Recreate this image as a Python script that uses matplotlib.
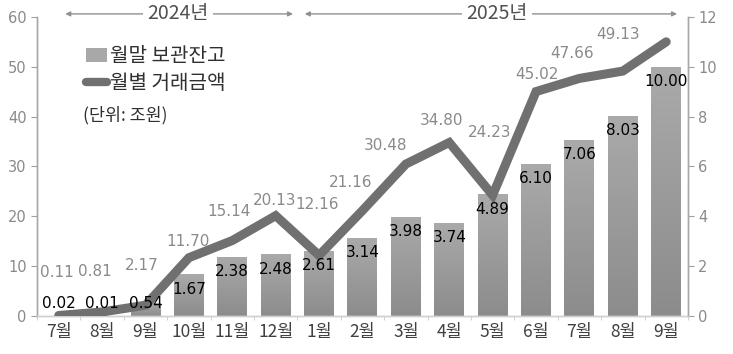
import numpy as np
import matplotlib.pyplot as plt
from matplotlib.patches import Patch
from matplotlib.lines import Line2D
from matplotlib.colors import LinearSegmentedColormap

plt.rcParams['font.family'] = ['Noto Sans CJK KR', 'DejaVu Sans']

# data
months = ['7월', '8월', '9월', '10월', '11월', '12월', '1월', '2월', '3월',
          '4월', '5월', '6월', '7월', '8월', '9월']
# 월말 보관잔고 (right axis)
balance = [0.02, 0.01, 0.54, 1.67, 2.38, 2.48, 2.61, 3.14, 3.98, 3.74,
           4.89, 6.10, 7.06, 8.03, 10.00]
# 월별 거래금액 (left axis); last label not shown in the source
trade = [0.11, 0.81, 2.17, 11.70, 15.14, 20.13, 12.16, 21.16, 30.48, 34.80,
         24.23, 45.02, 47.66, 49.13, 55.0]
trade_labels = ['0.11', '0.81', '2.17', '11.70', '15.14', '20.13', '12.16',
                '21.16', '30.48', '34.80', '24.23', '45.02', '47.66', '49.13', None]

# hand placed label offsets (pixels) for the line labels
lab_dx = [-2, -7, -4, -1, -3, -1, -2, -12, -20, -8, -3, 1, -7, -5, 0]
lab_dy = [43, 40, 40, 16, 29, 15, 51, 28, 19, 22, 63, 17, 25, 37, 0]

grey_txt = '#8a8a8a'
line_col = '#707070'
num_font = ['DejaVu Sans']

fig = plt.figure(figsize=(7.33, 3.54), dpi=100)
ax = fig.add_axes([0.0505, 0.1073, 0.888, 0.845])
ax2 = ax.twinx()
x = np.arange(len(months))

#bars on right axis with vertical gradient
cmap = LinearSegmentedColormap.from_list('g', ['#8c8c8c', '#aaaaaa'])
grad = np.linspace(0, 1, 256).reshape(-1, 1)
bars = ax2.bar(x, balance, width=0.69, color='#9c9c9c', edgecolor='none')
for b in bars:
    x0, w, h = b.get_x(), b.get_width(), b.get_height()
    if h <= 0:
        continue
    im = ax2.imshow(grad, cmap=cmap, origin='lower', aspect='auto',
                    extent=[x0, x0 + w, 0, h], zorder=2)
    im.set_clip_path(b)
    b.set_alpha(0)
ax2.set_xlim(-0.5, len(months) - 0.5)
ax2.set_ylim(0, 12)

#line on left axis drawn over bars
ax.set_zorder(ax2.get_zorder() + 1)
ax.patch.set_visible(False)
ax.plot(x, trade, color=line_col, lw=6.5, solid_capstyle='round',
        solid_joinstyle='miter', zorder=4)
for xi, v, t, dx, dy in zip(x, trade, trade_labels, lab_dx, lab_dy):
    if t is None:
        continue
    ax.annotate(t, (xi, v), xytext=(dx, dy), textcoords='offset pixels',
                ha='center', va='center', fontsize=11, color=grey_txt,
                family=num_font)

#bar labels on top of the line (right axis value -> left axis scale)
for xi, v in zip(x, balance):
    ax.text(xi, max(v - 0.6, 0.52) * 5, f'{v:.2f}', ha='center', va='center',
            fontsize=11, color='black', zorder=6, family=num_font)

ax.set_xlim(-0.5, len(months) - 0.5)
ax.set_ylim(0, 60)
ax.set_yticks(range(0, 61, 10))
ax2.set_yticks(range(0, 13, 2))
ax.set_xticks(x)
ax.set_xticklabels(months, fontsize=12.5, color='#404040')
ax.set_xticks(np.arange(-0.5, len(months), 1), minor=True)
ax.tick_params(axis='x', which='major', length=0, pad=5)
ax.tick_params(axis='x', which='minor', length=3, color='#c8c8c8')
ax.tick_params(axis='y', labelsize=10.5, labelcolor=grey_txt, color='#a0a0a0', length=4)
ax2.tick_params(axis='y', labelsize=10.5, labelcolor=grey_txt, color='#a0a0a0', length=4)
for t in ax.get_yticklabels() + ax2.get_yticklabels():
    t.set_family(num_font)

for a in (ax, ax2):
    a.spines['top'].set_visible(False)
    for s in ('left', 'right', 'bottom'):
        a.spines[s].set_color('#a8a8a8')
        a.spines[s].set_linewidth(1.0)
ax2.spines['bottom'].set_color('#d0d0d0')
ax.spines['bottom'].set_color('#d0d0d0')

#legend
handles = [Patch(facecolor='#a8a8a8', edgecolor='none'),
           Line2D([0], [0], color=line_col, lw=6, solid_capstyle='round')]
leg = ax.legend(handles, ['월말 보관잔고', '월별 거래금액'], loc='upper left',
                bbox_to_anchor=(0.118, 0.87), bbox_transform=fig.transFigure,
                frameon=False, fontsize=14.5, handlelength=1.0, handletextpad=0.15,
                labelspacing=0.3, borderpad=0, borderaxespad=0)
for t in leg.get_texts():
    t.set_color('#303030')
fig.text(0.113, 0.675, '(단위: 조원)', fontsize=12.5, color='#303030', va='center')

#year arrows
arrow = dict(arrowstyle='-|>', color='#909090', lw=1, mutation_scale=7,
             shrinkA=0, shrinkB=0)
for label, xc, xl, xr in [('2024년', 2.75, 0.15, 5.4), ('2025년', 10.1, 5.67, 14.25)]:
    ax.annotate('', xy=(xl, 1.01), xytext=(xc, 1.01),
                xycoords=('data', 'axes fraction'), arrowprops=arrow, annotation_clip=False)
    ax.annotate('', xy=(xr, 1.01), xytext=(xc, 1.01),
                xycoords=('data', 'axes fraction'), arrowprops=arrow, annotation_clip=False)
    ax.text(xc, 1.01, label, transform=ax.get_xaxis_transform(), ha='center',
            va='center', fontsize=14, color='#505050', zorder=10,
            bbox=dict(facecolor='white', edgecolor='none', pad=3))

fig.savefig('out.png', dpi=100)
